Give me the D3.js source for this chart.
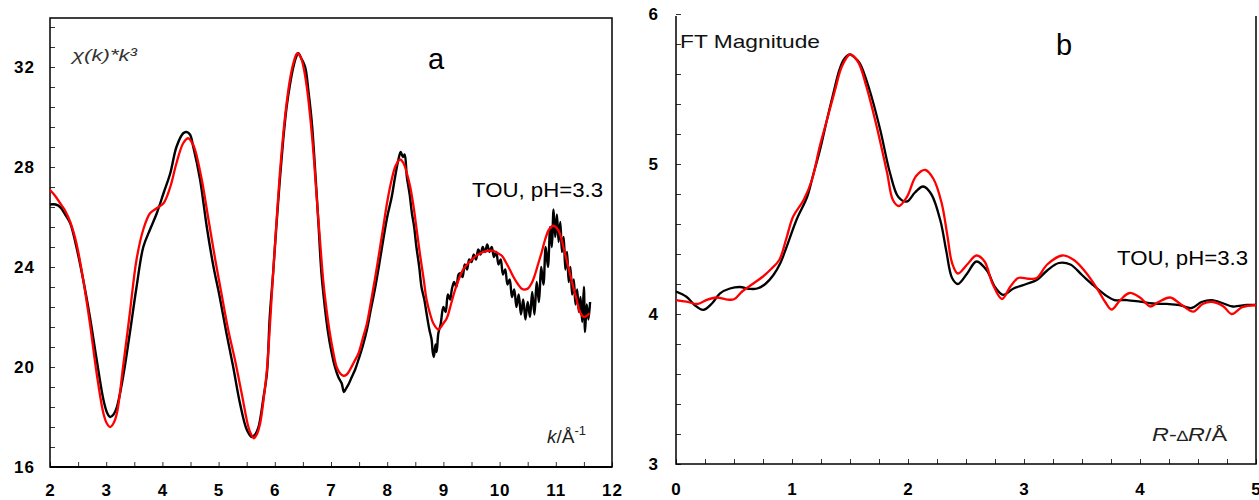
<!DOCTYPE html>
<html><head><meta charset="utf-8">
<script src="https://cdn.jsdelivr.net/npm/d3@7/dist/d3.min.js"></script>
<style>
body{margin:0;background:#fff;}
svg{display:block;}
text{font-family:"Liberation Sans",Arial,sans-serif;}
.tick text{font-weight:bold;font-size:17px;fill:#000;letter-spacing:1px;}
.tick line{stroke:#333;stroke-width:1;}
</style></head><body>
<svg id="chart" width="1259" height="500"></svg>
<script>
// ---------- Panel a: chi(k)*k^3 ----------
const kBlack = [2.00,2.10,2.18,2.27,2.36,2.47,2.59,2.71,2.83,2.95,3.02,3.07,3.13,3.19,3.30,3.42,3.54,3.66,3.78,3.90,4.02,4.14,4.25,4.37,4.43,4.49,4.55,4.67,4.79,4.91,5.02,5.14,5.26,5.38,5.50,5.59,5.65,5.71,5.80,5.86,5.91,5.97,6.03,6.09,6.15,6.21,6.27,6.33,6.38,6.42,6.47,6.54,6.60,6.66,6.70,6.74,6.78,6.83,6.89,6.95,7.00,7.07,7.13,7.19,7.23,7.27,7.31,7.37,7.43,7.49,7.56,7.64,7.70,7.78,7.85,7.93,8.00,8.08,8.14,8.20,8.24,8.28,8.31,8.35,8.40,8.44,8.48,8.52,8.57,8.61,8.66,8.70,8.75,8.79,8.81,8.83,8.86,8.88,8.91,8.95,9.00,9.04,9.08,9.12,9.15,9.19,9.23,9.27,9.30,9.34,9.38,9.42,9.46,9.50,9.54,9.58,9.62,9.66,9.70,9.74,9.78,9.82,9.86,9.90,9.94,9.98,10.02,10.06,10.10,10.14,10.18,10.22,10.26,10.30,10.34,10.38,10.42,10.46,10.50,10.54,10.58,10.62,10.66,10.70,10.74,10.78,10.82,10.86,10.90,10.93,10.96,10.99,11.02,11.05,11.08,11.11,11.14,11.17,11.20,11.23,11.26,11.29,11.32,11.35,11.38,11.41,11.44,11.47,11.50,11.52,11.55,11.58,11.61];
const chiBlack = [26.5,26.5,26.4,26.1,25.75,24.8,23.5,22.0,20.3,18.7,18.15,18.0,18.1,18.4,19.6,21.35,23.2,24.8,25.5,26.15,26.95,27.75,28.8,29.35,29.4,29.3,28.8,27.5,25.6,24.0,22.8,21.35,20.0,18.55,17.5,17.2,17.3,17.6,18.8,19.75,22.0,23.75,25.7,27.5,29.1,30.4,31.3,32.0,32.4,32.55,32.35,32.0,31.0,29.75,28.5,27.1,25.6,23.75,22.4,21.35,20.7,20.0,19.6,19.35,19.0,19.15,19.3,19.6,19.9,20.3,20.8,21.5,22.2,23.1,24.0,25.1,26.0,26.8,27.6,28.3,28.6,28.4,28.5,27.6,26.9,26.15,25.6,24.8,24.0,23.2,22.7,22.15,21.5,21.1,20.6,20.4,20.9,20.6,21.35,21.7,22.4,22.2,22.9,22.7,23.1,23.4,23.2,23.7,23.75,23.6,24.1,23.9,24.3,24.2,24.5,24.3,24.7,24.5,24.8,24.6,24.9,24.6,24.8,24.4,24.6,24.1,24.3,23.7,23.9,23.3,23.5,22.8,23.1,22.4,22.9,22.1,22.7,21.9,22.6,22.0,23.0,22.1,23.4,22.6,24.0,23.3,24.8,24.0,25.6,24.8,26.3,25.2,26.1,25.0,25.8,24.6,25.2,23.9,24.6,23.4,24.0,22.9,23.5,22.5,23.1,22.2,22.8,21.8,23.2,21.4,22.5,21.9,22.6];
const kRed = [2.00,2.09,2.18,2.27,2.36,2.47,2.59,2.71,2.83,2.95,3.01,3.07,3.13,3.19,3.30,3.42,3.54,3.66,3.78,3.90,4.02,4.14,4.25,4.37,4.46,4.52,4.58,4.70,4.82,4.94,5.05,5.17,5.29,5.41,5.53,5.58,5.63,5.68,5.74,5.80,5.86,5.97,6.03,6.09,6.15,6.21,6.27,6.33,6.40,6.46,6.51,6.57,6.63,6.69,6.74,6.80,6.86,6.92,6.98,7.04,7.10,7.16,7.22,7.28,7.34,7.41,7.49,7.56,7.64,7.71,7.78,7.86,7.93,8.00,8.08,8.15,8.23,8.29,8.35,8.41,8.47,8.53,8.59,8.65,8.70,8.76,8.82,8.91,9.00,9.06,9.14,9.21,9.29,9.35,9.44,9.53,9.62,9.71,9.80,9.89,9.97,10.04,10.11,10.18,10.26,10.33,10.40,10.45,10.51,10.57,10.63,10.69,10.75,10.81,10.88,10.96,11.02,11.07,11.13,11.19,11.25,11.31,11.37,11.43,11.50,11.55,11.60];
const chiRed = [27.08,26.85,26.55,26.25,25.8,24.95,23.5,21.75,19.75,18.15,17.75,17.6,17.75,18.15,20.0,22.15,24.3,25.5,26.15,26.35,26.55,27.2,28.15,28.95,29.15,29.0,28.7,27.5,25.9,24.3,22.95,21.5,20.3,18.95,17.6,17.3,17.15,17.3,17.75,18.7,19.9,23.75,25.8,27.75,29.3,30.55,31.5,32.15,32.55,32.4,32.0,31.2,30.0,28.5,26.95,25.2,23.5,22.3,21.35,20.6,20.0,19.75,19.65,19.7,19.9,20.2,20.55,21.1,21.75,22.6,23.5,24.6,25.6,26.6,27.5,28.05,28.3,28.15,27.75,27.2,26.4,25.4,24.4,23.5,22.7,22.15,21.75,21.5,21.75,21.95,22.55,23.1,23.6,23.9,24.15,24.35,24.5,24.6,24.65,24.65,24.55,24.45,24.2,23.9,23.55,23.3,23.12,23.1,23.15,23.35,23.7,24.15,24.6,25.1,25.5,25.65,25.55,25.35,24.85,24.3,23.75,23.2,22.7,22.2,22.0,22.05,22.15];
const kTicks = [2,2.5,3,3.5,4,4.5,5,5.5,6,6.5,7,7.5,8,8.5,9,9.5,10,10.5,11,11.5,12];
const kLabels = [2,3,4,5,6,7,8,9,10,11,12];
const chiTicks = [16,16.8,17.6,18.4,19.2,20,20.8,21.6,22.4,23.2,24,24.8,25.6,26.4,27.2,28,28.8,29.6,30.4,31.2,32,32.8,33.6];
const chiLabels = [16,20,24,28,32];

// ---------- Panel b: FT magnitude ----------
const rBlack = [0,0.09,0.16,0.235,0.31,0.38,0.465,0.55,0.64,0.70,0.77,0.84,0.90,0.95,1.04,1.13,1.18,1.24,1.30,1.356,1.41,1.45,1.50,1.54,1.586,1.67,1.76,1.845,1.917,1.99,2.06,2.13,2.20,2.28,2.33,2.38,2.43,2.51,2.59,2.68,2.75,2.82,2.91,3.02,3.11,3.20,3.30,3.40,3.50,3.60,3.70,3.78,3.885,4.0,4.11,4.23,4.34,4.445,4.53,4.62,4.72,4.80,4.92,5.0];
const ftBlack = [4.15,4.115,4.06,4.027,4.07,4.138,4.17,4.18,4.167,4.17,4.2,4.26,4.34,4.44,4.63,4.78,4.92,5.09,5.29,5.47,5.63,5.70,5.73,5.71,5.67,5.49,5.23,4.94,4.78,4.75,4.81,4.85,4.80,4.62,4.42,4.24,4.20,4.27,4.35,4.29,4.18,4.127,4.17,4.20,4.227,4.29,4.34,4.33,4.26,4.19,4.127,4.093,4.093,4.082,4.07,4.067,4.06,4.04,4.08,4.093,4.07,4.05,4.06,4.06];
const rRed = [0,0.09,0.19,0.26,0.35,0.43,0.50,0.57,0.66,0.75,0.82,0.89,0.95,1.01,1.10,1.17,1.24,1.30,1.37,1.43,1.50,1.57,1.64,1.73,1.82,1.87,1.92,1.99,2.07,2.15,2.22,2.29,2.34,2.38,2.43,2.51,2.59,2.66,2.73,2.81,2.88,2.95,3.04,3.11,3.20,3.33,3.43,3.53,3.63,3.70,3.755,3.83,3.91,4.0,4.09,4.16,4.26,4.36,4.46,4.54,4.63,4.72,4.79,4.88,5.0];
const ftRed = [4.093,4.082,4.067,4.093,4.11,4.098,4.098,4.15,4.2,4.25,4.3,4.36,4.50,4.65,4.76,4.89,5.12,5.29,5.49,5.65,5.73,5.68,5.52,5.25,4.94,4.76,4.72,4.78,4.92,4.96,4.90,4.74,4.52,4.34,4.27,4.33,4.39,4.35,4.2,4.1,4.18,4.24,4.235,4.24,4.33,4.39,4.36,4.28,4.17,4.08,4.03,4.093,4.14,4.11,4.05,4.08,4.11,4.06,4.016,4.067,4.08,4.05,4.0,4.045,4.06];
const rTicks = [0,0.25,0.5,0.75,1,1.25,1.5,1.75,2,2.25,2.5,2.75,3,3.25,3.5,3.75,4,4.25,4.5,4.75,5];
const rLabels = [0,1,2,3,4,5];
const ftTicks = [3,3.2,3.4,3.6,3.8,4,4.2,4.4,4.6,4.8,5,5.2,5.4,5.6,5.8,6];
const ftLabels = [3,4,5,6];

const svg = d3.select("#chart");
const near = (arr, v) => arr.some(a => Math.abs(a - v) < 1e-6);

// ===== Panel a =====
const xL = d3.scaleLinear().domain([2,12]).range([50,612]);
const yL = d3.scaleLinear().domain([16,34]).range([467,17]);
const gA = svg.append("g");

gA.append("g").attr("transform","translate(0,467)")
  .call(d3.axisBottom(xL).tickValues(kTicks).tickSize(-5).tickPadding(17)
    .tickFormat(d => near(kLabels,d) ? d : ""))
  .call(g => g.select(".domain").remove());
gA.append("g").attr("transform","translate(50,0)")
  .call(d3.axisLeft(yL).tickValues(chiTicks).tickSize(-5).tickPadding(15)
    .tickFormat(d => near(chiLabels,d) ? d : ""))
  .call(g => g.select(".domain").remove());
gA.append("rect").attr("x",50).attr("y",18).attr("width",562).attr("height",449)
  .attr("fill","none").attr("stroke","#000").attr("stroke-width",1.5);
gA.append("line").attr("x1",50).attr("x2",612).attr("y1",467).attr("y2",467)
  .attr("stroke","#000").attr("stroke-width",2);

const lineA = d3.line().x(d => xL(d[0])).y(d => yL(d[1]));
gA.append("path").datum(kBlack.map((k,i)=>[k,chiBlack[i]]))
  .attr("d", lineA.curve(d3.curveCatmullRom.alpha(0.5)))
  .attr("fill","none").attr("stroke","#000").attr("stroke-width",2.4).attr("stroke-linejoin","round");
gA.append("path").datum(kRed.map((k,i)=>[k,chiRed[i]]))
  .attr("d", lineA.curve(d3.curveCatmullRom.alpha(0.5)))
  .attr("fill","none").attr("stroke","#ff0000").attr("stroke-width",2.3);

gA.append("text").attr("x",72).attr("y",61).attr("font-size",17).attr("font-style","italic")
  .attr("textLength",65).attr("lengthAdjust","spacingAndGlyphs")
  .attr("fill","#333").text("χ(k)*k³");
gA.append("text").attr("x",428).attr("y",69).attr("font-size",29)
  .attr("font-family","'Liberation Serif','Times New Roman',serif").text("a");
gA.append("text").attr("x",472).attr("y",197).attr("font-size",20)
  .attr("textLength",131).attr("lengthAdjust","spacingAndGlyphs").text("TOU, pH=3.3");
const kl = gA.append("text").attr("x",547).attr("y",443).attr("font-size",19).attr("fill","#222");
kl.append("tspan").attr("font-style","italic").text("k");
kl.append("tspan").text("/Å");
kl.append("tspan").attr("font-size",13).attr("dy",-8).text("-1");

// ===== Panel b =====
const xR = d3.scaleLinear().domain([0,5]).range([676,1256]);
const yR = d3.scaleLinear().domain([3,6]).range([464,14]);
const gB = svg.append("g");

gB.append("g").attr("transform","translate(0,464)")
  .call(d3.axisBottom(xR).tickValues(rTicks).tickSize(-5).tickPadding(19)
    .tickFormat(d => near(rLabels,d) ? d : ""))
  .call(g => g.select(".domain").remove());
gB.append("g").attr("transform","translate(676,0)")
  .call(d3.axisLeft(yR).tickValues(ftTicks).tickSize(-5).tickPadding(17)
    .tickFormat(d => near(ftLabels,d) ? d : ""))
  .call(g => g.select(".domain").remove());
gB.append("path").attr("d","M676,16V464H1256V16")
  .attr("fill","none").attr("stroke","#000").attr("stroke-width",1.5);

const lineB = d3.line().x(d => xR(d[0])).y(d => yR(d[1])).curve(d3.curveCatmullRom.alpha(0.5));
gB.append("path").datum(rBlack.map((r,i)=>[r,ftBlack[i]])).attr("d",lineB)
  .attr("fill","none").attr("stroke","#000").attr("stroke-width",2.3);
gB.append("path").datum(rRed.map((r,i)=>[r,ftRed[i]])).attr("d",lineB)
  .attr("fill","none").attr("stroke","#ff0000").attr("stroke-width",2.3);

gB.append("text").attr("x",680).attr("y",48).attr("font-size",19)
  .attr("textLength",140).attr("lengthAdjust","spacingAndGlyphs").attr("fill","#111").text("FT Magnitude");
gB.append("text").attr("x",1056).attr("y",55).attr("font-size",29)
  .attr("font-family","'Liberation Serif','Times New Roman',serif").text("b");
gB.append("text").attr("x",1117).attr("y",265).attr("font-size",20)
  .attr("textLength",131).attr("lengthAdjust","spacingAndGlyphs").text("TOU, pH=3.3");
const rl = gB.append("text").attr("x",1152).attr("y",441).attr("font-size",19).attr("fill","#222")
  .attr("textLength",75).attr("lengthAdjust","spacingAndGlyphs");
rl.append("tspan").attr("font-style","italic").text("R");
rl.append("tspan").text("-");
rl.append("tspan").attr("font-size",15).text("∆");
rl.append("tspan").attr("font-style","italic").text("R");
rl.append("tspan").text("/Å");
</script>
</body></html>
